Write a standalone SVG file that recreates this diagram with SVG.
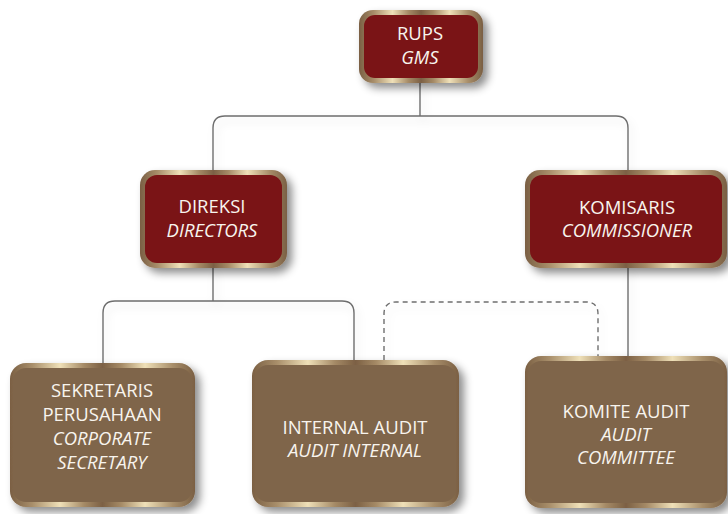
<svg xmlns="http://www.w3.org/2000/svg" width="728" height="514" viewBox="0 0 728 514">
<defs>
<linearGradient id="gold" x1="0" y1="0" x2="1" y2="0">
<stop offset="0" stop-color="#7a5f43"/>
<stop offset="0.12" stop-color="#a88e6a"/>
<stop offset="0.27" stop-color="#efe0b8"/>
<stop offset="0.4" stop-color="#a58a66"/>
<stop offset="0.5" stop-color="#7c6044"/>
<stop offset="0.6" stop-color="#a58a66"/>
<stop offset="0.73" stop-color="#efe0b8"/>
<stop offset="0.88" stop-color="#a88e6a"/>
<stop offset="1" stop-color="#7a5f43"/>
</linearGradient>
<filter id="shadow" x="-20%" y="-20%" width="150%" height="150%">
<feDropShadow dx="5" dy="5" stdDeviation="4" flood-color="#000" flood-opacity="0.45"/>
</filter>
<filter id="lshadow" x="-10%" y="-10%" width="130%" height="140%">
<feDropShadow dx="3" dy="5" stdDeviation="4" flood-color="#000" flood-opacity="0.12"/>
</filter>
</defs>
<style>
.frame{fill:url(#gold);filter:url(#shadow)}
.red{fill:#7a1416}
.brown{fill:#7f654a}
.t{font-family:"Open Sans","Noto Sans","Liberation Sans",sans-serif;font-size:18.5px;fill:#f8f4ee;text-anchor:middle}
.i{font-style:italic}
.c{fill:none;stroke:#6e6e6e;stroke-width:1.4}
.d{stroke-dasharray:5 4}
</style>
<rect width="728" height="514" fill="#ffffff"/>
<g id="connectors" filter="url(#lshadow)">
<path class="c" d="M420 83 V116 M213 170 V128 Q213 116 225 116 H616 Q628 116 628 128 V170"/>
<path class="c" d="M213 268 V301 M103 363 V313 Q103 301 115 301 H342 Q354 301 354 313 V360"/>
<path class="c d" d="M384 360 V314 Q384 302 396 302 H586 Q598 302 598 314 V356"/>
<path class="c" d="M628 268 V356"/>
</g>
<g id="rups">
<rect class="frame" x="359" y="10" width="124" height="73" rx="14"/>
<rect class="red" x="364" y="15" width="114" height="63" rx="11"/>
<text class="t" x="420" y="40">RUPS</text>
<text class="t i" x="420" y="64">GMS</text>
</g>
<g id="direksi">
<rect class="frame" x="140" y="170" width="147" height="98" rx="15"/>
<rect class="red" x="145" y="175" width="137" height="88" rx="12"/>
<text class="t" x="212" y="213">DIREKSI</text>
<text class="t i" x="212" y="237">DIRECTORS</text>
</g>
<g id="komisaris">
<rect class="frame" x="525" y="170" width="202" height="98" rx="15"/>
<rect class="red" x="530" y="175" width="192" height="88" rx="12"/>
<text class="t" x="627" y="214">KOMISARIS</text>
<text class="t i" x="627" y="237">COMMISSIONER</text>
</g>
<g id="sekretaris">
<rect class="frame" x="10" y="363" width="185" height="144" rx="16"/>
<rect class="brown" x="13" y="368" width="179" height="134" rx="13"/>
<text class="t" x="102" y="397">SEKRETARIS</text>
<text class="t" x="102" y="421">PERUSAHAAN</text>
<text class="t i" x="102" y="445">CORPORATE</text>
<text class="t i" x="102" y="469">SECRETARY</text>
</g>
<g id="internal-audit">
<rect class="frame" x="252" y="360" width="207" height="147" rx="16"/>
<rect class="brown" x="255" y="365" width="201" height="137" rx="13"/>
<text class="t" x="355" y="434">INTERNAL AUDIT</text>
<text class="t i" x="355" y="457">AUDIT INTERNAL</text>
</g>
<g id="komite-audit">
<rect class="frame" x="525" y="356" width="202" height="152" rx="16"/>
<rect class="brown" x="528" y="361" width="196" height="142" rx="13"/>
<text class="t" x="626" y="418">KOMITE AUDIT</text>
<text class="t i" x="626" y="441">AUDIT</text>
<text class="t i" x="626" y="464">COMMITTEE</text>
</g>
</svg>
